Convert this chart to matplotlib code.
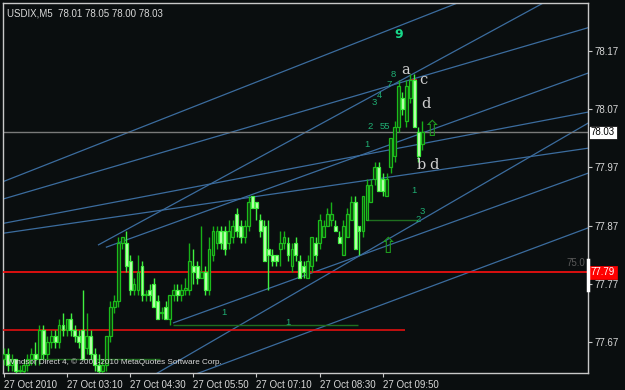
# USDIX M5 chart in the style of the MetaTrader terminal
import numpy as np
import matplotlib
matplotlib.use('Agg')
from matplotlib import pyplot as plt
from matplotlib import transforms

plt.rcParams['font.family'] = ['Liberation Sans', 'DejaVu Sans']

# one candle per bar, bar index = position on the chart
opens = [77.64, 77.65, 77.63, 77.64, 77.62, 77.62, 77.63, 77.64, 77.65, 77.64,
         77.69, 77.65, 77.67, 77.68, 77.67, 77.70, 77.69, 77.71, 77.69, 77.68,
         77.69, 77.66, 77.68, 77.65, 77.63, 77.62, 77.63, 77.68, 77.73, 77.74,
         77.84, 77.84, 77.81, 77.76, 77.76, 77.80, 77.75, 77.76, 77.77, 77.74,
         77.72, 77.73, 77.71, 77.75, 77.76, 77.75, 77.76, 77.76, 77.80, 77.80,
         77.78, 77.79, 77.76, 77.82, 77.84, 77.86, 77.86, 77.84, 77.85, 77.89,
         77.87, 77.85, 77.87, 77.92, 77.91, 77.88, 77.87, 77.83, 77.82, 77.82,
         77.83, 77.84, 77.84, 77.80, 77.84, 77.81, 77.80, 77.78, 77.80, 77.84,
         77.84, 77.85, 77.87, 77.88, 77.87, 77.85, 77.82, 77.85, 77.88, 77.91,
         77.87, 77.86, 77.88, 77.91, 77.95, 77.97, 77.95, 77.92, 77.97, 77.99,
         78.04, 78.09, 78.05, 78.09, 78.12, 78.03, 78.01]
highs = [77.66, 77.66, 77.65, 77.64, 77.63, 77.64, 77.65, 77.66, 77.67, 77.70,
         77.70, 77.68, 77.69, 77.69, 77.71, 77.72, 77.71, 77.72, 77.70, 77.69,
         77.76, 77.72, 77.69, 77.66, 77.65, 77.64, 77.68, 77.74, 77.75, 77.85,
         77.85, 77.86, 77.82, 77.78, 77.82, 77.81, 77.76, 77.77, 77.78, 77.75,
         77.73, 77.74, 77.75, 77.77, 77.77, 77.77, 77.78, 77.84, 77.83, 77.81,
         77.87, 77.80, 77.85, 77.87, 77.87, 77.87, 77.87, 77.88, 77.88, 77.90,
         77.88, 77.88, 77.92, 77.92, 77.91, 77.89, 77.88, 77.88, 77.83, 77.82,
         77.86, 77.86, 77.85, 77.84, 77.85, 77.82, 77.81, 77.82, 77.85, 77.85,
         77.89, 77.88, 77.90, 77.91, 77.88, 77.86, 77.88, 77.90, 77.92, 77.92,
         77.87, 77.92, 77.95, 77.95, 77.98, 77.98, 77.96, 77.96, 78.02, 78.05,
         78.12, 78.10, 78.12, 78.13, 78.13, 78.04, 78.05]
lows = [77.63, 77.62, 77.62, 77.61, 77.61, 77.61, 77.62, 77.63, 77.63, 77.63,
        77.64, 77.64, 77.66, 77.66, 77.66, 77.68, 77.68, 77.68, 77.67, 77.66,
        77.64, 77.65, 77.64, 77.62, 77.61, 77.61, 77.62, 77.67, 77.72, 77.73,
        77.83, 77.79, 77.75, 77.75, 77.75, 77.74, 77.74, 77.74, 77.73, 77.71,
        77.71, 77.71, 77.70, 77.74, 77.74, 77.74, 77.75, 77.75, 77.77, 77.77,
        77.78, 77.75, 77.75, 77.81, 77.83, 77.83, 77.82, 77.83, 77.84, 77.85,
        77.84, 77.84, 77.86, 77.90, 77.88, 77.85, 77.81, 77.76, 77.80, 77.80,
        77.80, 77.83, 77.81, 77.79, 77.81, 77.78, 77.78, 77.78, 77.79, 77.81,
        77.83, 77.85, 77.87, 77.87, 77.86, 77.84, 77.82, 77.85, 77.88, 77.83,
        77.82, 77.85, 77.88, 77.91, 77.94, 77.93, 77.92, 77.92, 77.96, 77.98,
        78.03, 78.06, 78.04, 78.08, 78.04, 77.98, 78.00]
closes = [77.65, 77.63, 77.64, 77.62, 77.62, 77.63, 77.64, 77.65, 77.64, 77.69,
          77.65, 77.67, 77.68, 77.67, 77.70, 77.69, 77.71, 77.69, 77.68, 77.67,
          77.64, 77.68, 77.65, 77.63, 77.62, 77.63, 77.68, 77.73, 77.74, 77.84,
          77.85, 77.80, 77.76, 77.77, 77.79, 77.75, 77.75, 77.75, 77.73, 77.71,
          77.72, 77.71, 77.75, 77.76, 77.75, 77.76, 77.76, 77.81, 77.79, 77.78,
          77.79, 77.76, 77.83, 77.86, 77.86, 77.84, 77.83, 77.86, 77.87, 77.86,
          77.85, 77.87, 77.91, 77.90, 77.90, 77.86, 77.81, 77.82, 77.81, 77.81,
          77.84, 77.85, 77.82, 77.83, 77.82, 77.78, 77.79, 77.81, 77.85, 77.82,
          77.88, 77.87, 77.89, 77.89, 77.86, 77.84, 77.87, 77.89, 77.91, 77.83,
          77.86, 77.92, 77.94, 77.94, 77.97, 77.93, 77.93, 77.95, 78.02, 78.04,
          78.11, 78.07, 78.11, 78.12, 78.04, 77.99, 78.03]

# time axis labels every 16 bars
tick_bars = [0, 16, 32, 48, 64, 80, 96]
tick_labels = ['27 Oct 2010', '27 Oct 03:10', '27 Oct 04:30', '27 Oct 05:50',
               '27 Oct 07:10', '27 Oct 08:30', '27 Oct 09:50']
price_ticks = [77.67, 77.77, 77.87, 77.97, 78.07, 78.17]

# trend lines: two anchor points (bar, price) and whether it is a ray from the first one
tl_bar1 = [0, 0, 24, 26, 0, 0, 43, 39, 49.5]
tl_price1 = [77.946, 77.916, 77.837, 77.833, 77.874, 77.857, 77.703, 77.617, 77.617]
tl_bar2 = [114, 148, 136, 148, 148, 148, 148, 148, 148]
tl_price2 = [78.25, 78.21, 78.25, 78.132, 78.065, 78.003, 77.960, 78.046, 77.866]
tl_ray = [False, False, True, True, False, False, True, False, False]

# horizontal levels
bid = 78.03
red_level = 77.79
red_segs = [(-1, 101.6, 77.69), (102.8, 104.6, 78.12)]
green_segs = [(42.9, 89.8, 77.70), (92.0, 104.9, 77.88), (9.2, 39.6, 77.64)]

# wave labels (text, bar, price)
wave_nums = [('8', 98.6, 78.13), ('7', 97.6, 78.112), ('4', 95.1, 78.093),
             ('3', 93.8, 78.082), ('2', 92.8, 78.041), ('55', 96.5, 78.041),
             ('1', 92.0, 78.01), ('1', 104.0, 77.931),
             ('3', 106.0, 77.894), ('2', 105.0, 77.881), ('1', 55.8, 77.72),
             ('1', 72.0, 77.703)]
wave_letters = [('a', 101.9, 78.137), ('c', 106.2, 78.12), ('d', 107.0, 78.079),
                ('b', 105.7, 77.974), ('d', 109.0, 77.974)]
arrows = [(108.3, 78.034), (97.1, 77.833)]

bg = '#0a0e0f'
blue = '#3b6c9e'
fg = '#d8d8d8'

fig = plt.figure(figsize=(6.25, 3.9), dpi=100, facecolor=bg)
ax = fig.add_axes([3 / 625, 17 / 390, 585 / 625, 370 / 390], facecolor=bg)
ax.set_xlim(-0.2, 148)
ax.set_ylim(77.6167, 78.2525)

# trend lines
for b1, p1, b2, p2, ray in zip(tl_bar1, tl_price1, tl_bar2, tl_price2, tl_ray):
    k = (p2 - p1) / (b2 - b1)
    xs = np.array([b1 if ray else -10, 160])
    ax.plot(xs, p1 + k * (xs - b1), color=blue, lw=0.9, zorder=2)

ax.axhline(bid, color='#7a7a7a', lw=1.0, zorder=2)
ax.axhline(red_level, color='#ff1010', lw=1.2, zorder=4)
for x0, x1, p in red_segs:
    ax.hlines(p, x0, x1, color='#e01010', lw=1.2, zorder=4)
for x0, x1, p in green_segs:
    ax.hlines(p, x0, x1, color='#1f6f1f', lw=1.0, zorder=3)

# candles
bars = np.arange(len(opens))
o = np.array(opens)
c = np.array(closes)
up = c >= o
ax.vlines(bars[up], np.array(lows)[up], np.array(highs)[up], color='#18b018', lw=1.0, zorder=5)
ax.vlines(bars[~up], np.array(lows)[~up], np.array(highs)[~up], color='#40f040', lw=1.0, zorder=5)
body = np.maximum(np.abs(c - o), 0.002)
ax.bar(bars[up], body[up], bottom=o[up], width=0.72, facecolor='#0d3a0d',
       edgecolor='#1cbc1c', lw=0.9, zorder=6)
ax.bar(bars[~up], body[~up], bottom=c[~up], width=0.72, facecolor='#c8ffb8',
       edgecolor='#40f040', lw=0.9, zorder=6)

# labels on the chart
ax.text(100.1, 78.199, '9', color='#18d88a', fontsize=9, fontweight='bold',
        family='DejaVu Sans', ha='center', va='center', zorder=8)
for t, b, p in wave_nums:
    ax.text(b, p, t, color='#1fae73', fontsize=6.8, ha='center', va='center', zorder=8)
for t, b, p in wave_letters:
    ax.text(b, p, t, color='#d0d0d0', fontsize=10.5, family='DejaVu Serif',
            ha='center', va='center', zorder=8)
for b, p in arrows:
    ax.text(b, p, '\u21e7', color='#1e9a1e', fontsize=16, family='DejaVu Sans',
            ha='center', va='center', zorder=8)

ax.text(0.007, 0.985, 'USDIX,M5  78.01 78.05 78.00 78.03', transform=ax.transAxes,
        color=fg, fontsize=7, ha='left', va='top', zorder=9)
ax.text(0.007, 0.03, 'Windsor Direct 4, \u00a9 2001-2010 MetaQuotes Software Corp.',
        transform=ax.transAxes, color=fg, fontsize=5.9, ha='left', va='center', zorder=9)

# axis styling like the terminal
for s in ax.spines.values():
    s.set_color('#c8c8c8')
    s.set_linewidth(1.0)
ax.yaxis.tick_right()
ax.set_yticks(price_ticks)
ax.set_yticklabels([f'{p:.2f}' for p in price_ticks])
ax.set_xticks(tick_bars)
ax.set_xticklabels(tick_labels, ha='left')
ax.tick_params(axis='both', colors='#c8c8c8', labelcolor=fg, labelsize=7,
               length=3, width=0.8, pad=2)

trans = transforms.blended_transform_factory(ax.transAxes, ax.transData)
ax.text(1.005, bid, f'{bid:.2f}', transform=trans, color='black', fontsize=7,
        ha='left', va='center', zorder=10,
        bbox=dict(boxstyle='square,pad=0.15', fc='white', ec='black', lw=0.5))
ax.text(1.005, red_level, f'{red_level:.2f}', transform=trans, color='white', fontsize=7,
        ha='left', va='center', zorder=10,
        bbox=dict(boxstyle='square,pad=0.15', fc='#ff0000', ec='#ff0000', lw=0.5))
ax.text(0.995, 77.806, '75.0', transform=trans, color='#5a5a5a', fontsize=7,
        ha='right', va='center', zorder=9)
ax.plot([1.0, 1.0], [77.811, 77.759], transform=trans, color='white', lw=2.5,
        clip_on=False, zorder=10)

fig.savefig('out.png', dpi=100, facecolor=bg)
